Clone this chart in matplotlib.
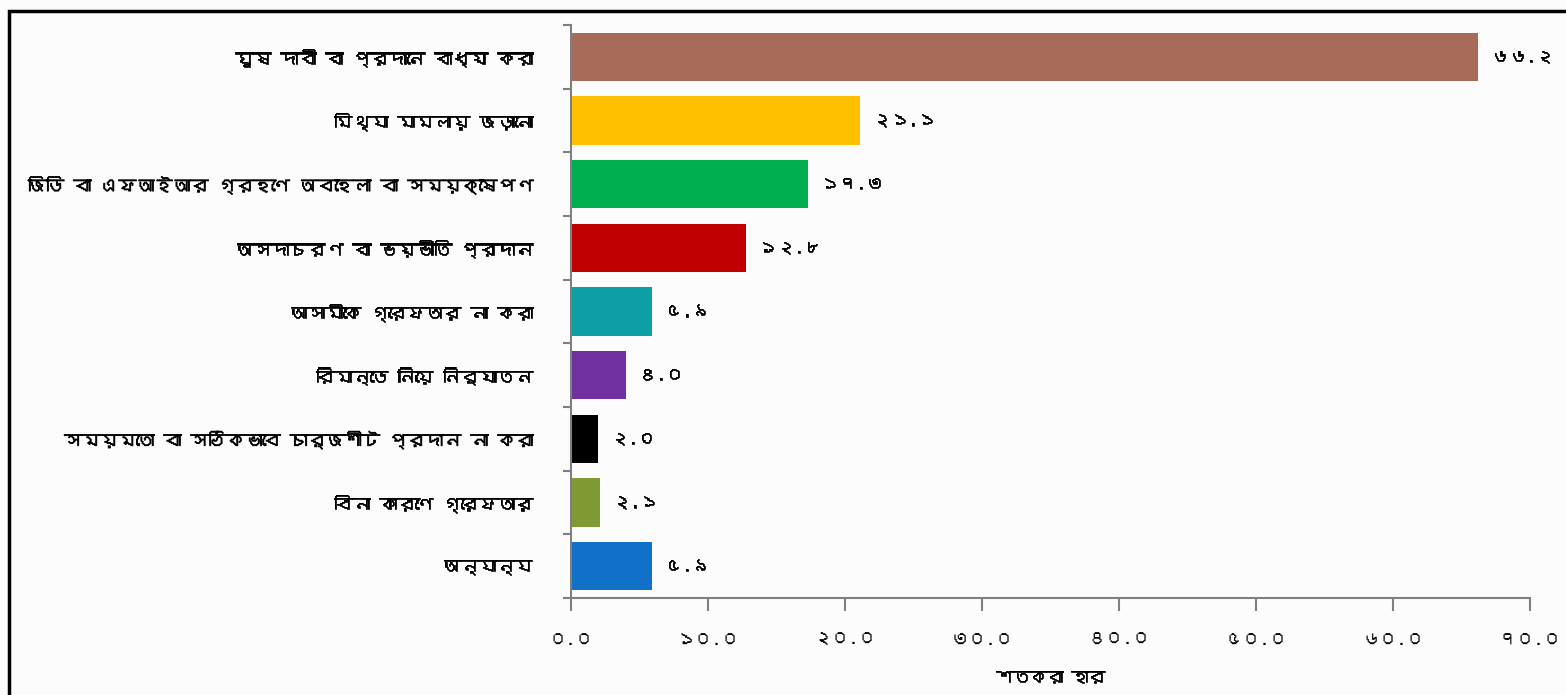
import matplotlib
matplotlib.use("Agg")
import matplotlib.pyplot as plt
from matplotlib import font_manager, patheffects
from matplotlib.ft2font import FT2Font
from matplotlib.patches import Rectangle

categories = [
    "ঘুষ দাবী বা প্রদানে বাধ্য করা",
    "মিথ্যা মামলায় জড়ানো",
    "জিডি বা এফআইআর গ্রহণে অবহেলা বা সময়ক্ষেপণ",
    "অসদাচরণ বা ভয়ভীতি প্রদান",
    "আসামীকে গ্রেফতার না করা",
    "রিমান্ডে নিয়ে নির্যাতন",
    "সময়মতো বা সঠিকভাবে চার্জশীট প্রদান না করা",
    "বিনা কারণে গ্রেফতার",
    "অন্যান্য",
]
values = [66.2, 21.1, 17.3, 12.8, 5.9, 4.0, 2.0, 2.1, 5.9]
value_labels = ["৬৬.২", "২১.১", "১৭.৩", "১২.৮", "৫.৯", "৪.০", "২.০", "২.১", "৫.৯"]
colors = ["#A86A59", "#FFC000", "#00B050", "#C00000", "#0E9FA6",
          "#7030A0", "#000000", "#7F9A33", "#1170C8"]
xticks = [0, 10, 20, 30, 40, 50, 60, 70]
xtick_labels = ["০.০", "১০.০", "২০.০", "৩০.০", "৪০.০", "৫০.০", "৬০.০", "৭০.০"]
xlabel = "শতকরা হার"

# find a font that has Bengali glyphs, if any
bengali_fonts = []
seen = set()
for f in font_manager.fontManager.ttflist:
    if f.name in seen:
        continue
    try:
        cm = FT2Font(f.fname).get_charmap()
        if 0x0985 in cm:
            bengali_fonts.append(f.name)
            seen.add(f.name)
    except Exception:
        pass
family = bengali_fonts[:1] + ["DejaVu Sans"]
plt.rcParams["font.family"] = family

bold = [patheffects.withStroke(linewidth=0.5, foreground="black")]

W, H = 1566, 695
fig = plt.figure(figsize=(W / 100, H / 100), dpi=100)
fig.patch.set_facecolor("#FCFCFC")

# outer frame
fig.patches.append(Rectangle((9 / W, -0.05), 1.2, 1 - 11 / H + 0.05, transform=fig.transFigure,
                             fill=False, edgecolor="black", linewidth=2.5))

ax = fig.add_axes([571 / W, 1 - 598 / H, (1530 - 571) / W, (598 - 25) / H])
ax.set_facecolor("none")

ypos = list(range(len(categories)))
ax.barh(ypos, values, height=0.76, color=colors)
ax.set_ylim(len(categories) - 0.5, -0.5)
ax.set_xlim(0, 70)

for y, v, lab in zip(ypos, values, value_labels):
    ax.text(v + 0.9, y, lab, va="center", ha="left", fontsize=13,
            fontweight="bold", path_effects=bold)

ax.set_yticks(ypos)
ax.set_yticklabels(categories, fontsize=13, fontweight="bold")
for t in ax.get_yticklabels():
    t.set_path_effects(bold)
ax.tick_params(axis="y", which="major", length=0, pad=28)
ax.set_yticks([i - 0.5 for i in range(len(categories) + 1)], minor=True)
ax.tick_params(axis="y", which="minor", length=6, width=1.5, color="#808080", direction="out")

ax.set_xticks(xticks)
ax.set_xticklabels(xtick_labels, fontsize=13)
ax.tick_params(axis="x", length=9, width=1.5, color="#808080", direction="out", pad=16)

for s in ["top", "right"]:
    ax.spines[s].set_visible(False)
for s in ["left", "bottom"]:
    ax.spines[s].set_color("#808080")
    ax.spines[s].set_linewidth(1.5)

ax.set_xlabel(xlabel, fontsize=12, fontweight="bold", labelpad=18, path_effects=bold)

fig.savefig("out.png", dpi=100, facecolor=fig.get_facecolor())
